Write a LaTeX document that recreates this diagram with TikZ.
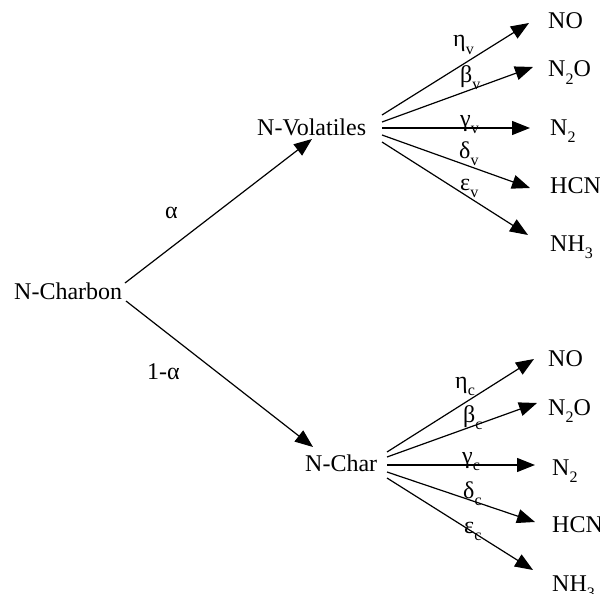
\documentclass[tikz,border=0pt]{standalone}
\usepackage{fontspec}
\setmainfont{Liberation Serif}
\usetikzlibrary{arrows.meta}
\newcommand\lowsub[1]{\raisebox{-0.33em}{\fontsize{16}{16}\selectfont #1}}
\begin{document}
\begin{tikzpicture}[x=1pt,y=-1pt,
  txt/.style={anchor=base west,inner sep=0pt,font=\fontsize{24}{28}\selectfont},
  arr/.style={line width=1.2pt,-{Triangle[length=18pt,width=14pt]}}]
\useasboundingbox (0,0) rectangle (600,594);
% main nodes
\node[txt] (ch) at (14,299) {N-Charbon};
\node[txt] (vol) at (257,135) {N-Volatiles};
\node[txt] (chr) at (305,471) {N-Char};
% main labels
\node[txt] (alpha) at (165,218) {α};
\node[txt] (oma) at (147,379) {1-α};
% main connectors
\coordinate (cu) at (125,283);
\coordinate (cd) at (126,301);
\coordinate (tv) at (312,139);
\coordinate (tc) at (313,447);
\draw[arr] (cu) -- (tv);
\draw[arr] (cd) -- (tc);
% volatile products
\node[txt] (vno) at (548,29) {NO};
\node[txt] (vn2o) at (548,77) {N\lowsub{2}O};
\node[txt] (vn2) at (550,135) {N\lowsub{2}};
\node[txt] (vhcn) at (550,193) {HCN};
\node[txt] (vnh3) at (550,251) {NH\lowsub{3}};
\coordinate (v1) at (382,115); \coordinate (tv1) at (529,23);
\coordinate (v2) at (382,122); \coordinate (tv2) at (533,67);
\coordinate (v3) at (382,128); \coordinate (tv3) at (530,128);
\coordinate (v4) at (382,135); \coordinate (tv4) at (530,188);
\coordinate (v5) at (382,142); \coordinate (tv5) at (528,235);
\draw[arr] (v1) -- (tv1);
\draw[arr] (v2) -- (tv2);
\draw[arr] (v3) -- (tv3);
\draw[arr] (v4) -- (tv4);
\draw[arr] (v5) -- (tv5);
\node[txt] (lv1) at (453,47) {η\lowsub{v}};
\node[txt] (lv2) at (460,82) {β\lowsub{v}};
\node[txt] (lv3) at (460,126) {γ\lowsub{v}};
\node[txt] (lv4) at (459,158) {δ\lowsub{v}};
\node[txt] (lv5) at (460,190) {ε\lowsub{v}};
% char products
\node[txt] (cno) at (548,366) {NO};
\node[txt] (cn2o) at (548,415) {N\lowsub{2}O};
\node[txt] (cn2) at (552,475) {N\lowsub{2}};
\node[txt] (chcn) at (552,532) {HCN};
\node[txt] (cnh3) at (552,591) {NH\lowsub{3}};
\coordinate (c1) at (387,452); \coordinate (tc1) at (534,359);
\coordinate (c2) at (387,457); \coordinate (tc2) at (537,403);
\coordinate (c3) at (387,465); \coordinate (tc3) at (535,465);
\coordinate (c4) at (387,472); \coordinate (tc4) at (535,522);
\coordinate (c5) at (387,478); \coordinate (tc5) at (533,570);
\draw[arr] (c1) -- (tc1);
\draw[arr] (c2) -- (tc2);
\draw[arr] (c3) -- (tc3);
\draw[arr] (c4) -- (tc4);
\draw[arr] (c5) -- (tc5);
\node[txt] (lc1) at (455,388) {η\lowsub{c}};
\node[txt] (lc2) at (463,422) {β\lowsub{c}};
\node[txt] (lc3) at (462,463) {γ\lowsub{c}};
\node[txt] (lc4) at (463,498) {δ\lowsub{c}};
\node[txt] (lc5) at (464,533) {ε\lowsub{c}};
\end{tikzpicture}
\end{document}
